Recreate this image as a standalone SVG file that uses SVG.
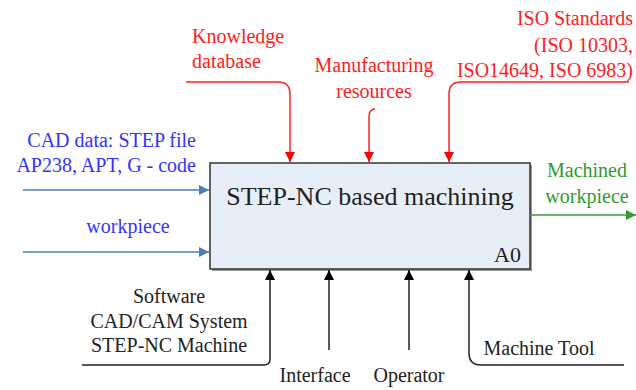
<svg xmlns="http://www.w3.org/2000/svg" width="636" height="390" viewBox="0 0 636 390">
<defs>
<marker id="ab" viewBox="0 0 10 10" refX="10" refY="5" markerWidth="10" markerHeight="10" markerUnits="userSpaceOnUse" orient="auto"><path d="M0,0 L10,5 L0,10 z" fill="#4a7ebb"/></marker>
<marker id="ar" viewBox="0 0 10 10" refX="10" refY="5" markerWidth="10" markerHeight="10" markerUnits="userSpaceOnUse" orient="auto"><path d="M0,0 L10,5 L0,10 z" fill="#ff0000"/></marker>
<marker id="ak" viewBox="0 0 10 10" refX="10" refY="5" markerWidth="10" markerHeight="10" markerUnits="userSpaceOnUse" orient="auto"><path d="M0,0 L10,5 L0,10 z" fill="#000"/></marker>
<marker id="ag" viewBox="0 0 10 10" refX="10" refY="5" markerWidth="10" markerHeight="10" markerUnits="userSpaceOnUse" orient="auto"><path d="M0,0 L10,5 L0,10 z" fill="#3a9a3a"/></marker>
</defs>
<style>
text{font-family:"Liberation Serif","Times New Roman",serif;font-size:20px}
.b{fill:#3333ff}.r{fill:#ff2020}.g{fill:#2e9a2e}.k{fill:#222}
.lb{stroke:#4a7ebb;stroke-width:1.5;fill:none;marker-end:url(#ab)}
.lr{stroke:#ff2020;stroke-width:1.5;fill:none;marker-end:url(#ar)}
.lk{stroke:#222;stroke-width:1.5;fill:none;marker-end:url(#ak)}
.lg{stroke:#3a9a3a;stroke-width:1.5;fill:none;marker-end:url(#ag)}
</style>
<rect width="636" height="390" fill="#ffffff"/>
<g id="box">
<rect x="212" y="165" width="320" height="106" fill="#9a9a9a"/>
<rect x="210" y="163" width="320" height="106" fill="#e8eef8" stroke="#333" stroke-width="1.5"/>
<text x="370" y="205" text-anchor="middle" style="font-size:26px" class="k">STEP-NC based machining</text>
<text x="521" y="262" text-anchor="end" style="font-size:22px" class="k">A0</text>
</g>
<g id="connectors">
<path class="lb" d="M23,190 H209"/>
<path class="lb" d="M23,252 H209"/>
<path class="lr" d="M186,82 H278 Q290,82 290,94 V162"/>
<path class="lr" d="M375,109 Q369,109 369,117 V162"/>
<path class="lr" d="M629,82 H461 Q449,82 449,94 V162"/>
<path class="lg" d="M530,215 H636"/>
<path class="lk" d="M82,365 H264 Q270,365 270,359 V270"/>
<path class="lk" d="M329,350 V270"/>
<path class="lk" d="M409,350 V270"/>
<path class="lk" d="M624,365 H481 Q469,365 469,353 V270"/>
</g>
<g id="input-cad">
<text x="196" y="147" text-anchor="end" class="b">CAD data: STEP file</text>
<text x="196" y="172" text-anchor="end" class="b">AP238, APT, G - code</text>
</g>
<g id="input-workpiece"><text x="128" y="233" text-anchor="middle" class="b">workpiece</text></g>
<g id="ctrl-knowledge">
<text x="192" y="43" class="r">Knowledge</text>
<text x="192" y="68" class="r">database</text>
</g>
<g id="ctrl-manufacturing">
<text x="374" y="72" text-anchor="middle" class="r">Manufacturing</text>
<text x="374" y="98" text-anchor="middle" class="r">resources</text>
</g>
<g id="ctrl-iso">
<text x="633" y="25" text-anchor="end" class="r">ISO Standards</text>
<text x="633" y="52" text-anchor="end" class="r">(ISO 10303,</text>
<text x="633" y="77" text-anchor="end" class="r">ISO14649, ISO 6983)</text>
</g>
<g id="output">
<text x="587" y="177" text-anchor="middle" class="g">Machined</text>
<text x="587" y="203" text-anchor="middle" class="g">workpiece</text>
</g>
<g id="mech-software">
<text x="169" y="303" text-anchor="middle" class="k">Software</text>
<text x="169" y="328" text-anchor="middle" class="k">CAD/CAM System</text>
<text x="169" y="352" text-anchor="middle" class="k">STEP-NC Machine</text>
</g>
<g id="mech-interface"><text x="315" y="382" text-anchor="middle" class="k">Interface</text></g>
<g id="mech-operator"><text x="409" y="382" text-anchor="middle" class="k">Operator</text></g>
<g id="mech-tool"><text x="539" y="355" text-anchor="middle" class="k">Machine Tool</text></g>
</svg>
